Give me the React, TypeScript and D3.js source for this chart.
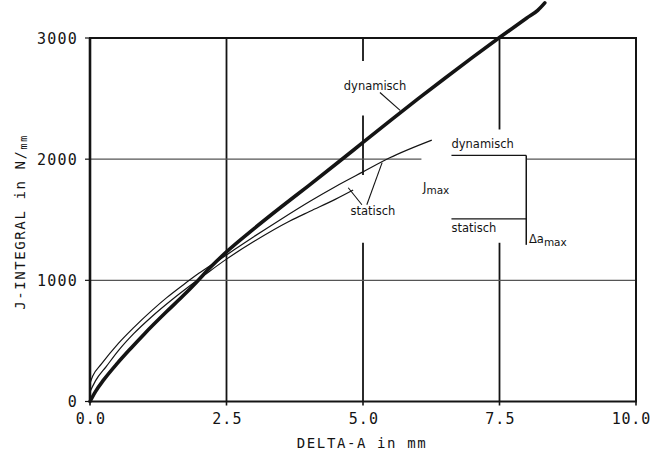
import React from 'react';
import * as d3 from 'd3';

// dynamisch (thick curve)
const dynDa = [0, 0.1, 0.25, 0.5, 0.75, 1.0, 1.4, 1.7, 1.95, 2.2, 2.5, 3.0, 3.5, 4.0, 4.5, 5.0, 5.5, 6.0, 6.5, 7.0, 7.5, 8.0, 8.2, 8.33];
const dynJ = [0, 82, 178, 315, 440, 560, 740, 870, 985, 1105, 1235, 1425, 1605, 1780, 1958, 2138, 2318, 2495, 2668, 2838, 3004, 3165, 3228, 3290];

// statisch, upper/longer curve
const statADa = [0, 0.05, 0.21, 0.52, 0.8, 1.13, 1.4, 1.7, 2.0, 2.3, 2.5, 3.0, 3.5, 4.03, 4.5, 5.0, 5.49, 6.26];
const statAJ = [150, 210, 310, 480, 610, 750, 855, 960, 1060, 1150, 1210, 1360, 1505, 1653, 1775, 1895, 2011, 2157];

// statisch, lower/shorter curve
const statBDa = [0, 0.1, 0.3, 0.52, 0.8, 1.13, 1.5, 1.8, 2.1, 2.5, 3.0, 3.66, 4.03, 4.5, 4.82];
const statBJ = [80, 170, 290, 420, 560, 700, 840, 945, 1045, 1175, 1320, 1490, 1570, 1670, 1745];

const xTicks = [0, 2.5, 5, 7.5, 10];
const xTickLabels = ['0.0', '2.5', '5.0', '7.5', '10.0'];
const yTicks = [0, 1000, 2000, 3000];
const yTickLabels = ['0', '1000', '2000', '3000'];

const W = 653;
const H = 455;
const mono = '"DejaVu Sans Mono", monospace';
const sans = '"DejaVu Sans", sans-serif';
const ink = '#141414';

export default function App() {
  const x = d3.scaleLinear().domain([0, 10]).range([90, 636]);
  const y = d3.scaleLinear().domain([0, 3000]).range([401.5, 38]);

  const line = (da: number[], j: number[]) =>
    d3.line<number>()
      .x((_, i) => x(da[i]))
      .y((d) => y(d))
      .curve(d3.curveMonotoneX)(j) || '';

  // grid segments (with gaps left for the labels)
  const vGrid: { at: number; segs: [number, number][] }[] = [
    { at: 2.5, segs: [[0, 3000]] },
    { at: 5.0, segs: [[0, 1310], [1870, 2360], [2810, 3000]] },
    { at: 7.5, segs: [[0, 1310], [2245, 3000]] },
  ];
  const hGrid: { at: number; segs: [number, number][] }[] = [
    { at: 1000, segs: [[0, 10]] },
    { at: 2000, segs: [[0, 6.07], [7.99, 10]] },
  ];

  return (
    <svg width={W} height={H} style={{ position: 'absolute', left: 0, top: 0, background: '#fff' }}>
      {/* grid */}
      {vGrid.map((g) =>
        g.segs.map((s, i) => (
          <line key={`v${g.at}-${i}`} x1={x(g.at)} x2={x(g.at)} y1={y(s[0])} y2={y(s[1])} stroke={ink} strokeWidth={1.8} />
        ))
      )}
      {hGrid.map((g) =>
        g.segs.map((s, i) => (
          <line key={`h${g.at}-${i}`} x1={x(s[0])} x2={x(s[1])} y1={y(g.at)} y2={y(g.at)} stroke="#555" strokeWidth={1.1} />
        ))
      )}

      {/* frame */}
      <rect x={x(0)} y={y(3000)} width={x(10) - x(0)} height={y(0) - y(3000)} fill="none" stroke={ink} strokeWidth={2} />
      <line x1={x(0)} x2={x(0)} y1={y(3000)} y2={y(0)} stroke={ink} strokeWidth={2.6} />

      {/* ticks */}
      {yTicks.map((t, i) => (
        <g key={`yt${t}`}>
          <line x1={x(0) - 5} x2={x(0)} y1={y(t)} y2={y(t)} stroke={ink} strokeWidth={1.2} />
          <text x={78} y={y(t) + 5.5} textAnchor="end" fontFamily={mono} fontSize={15} letterSpacing={1.2} fill={ink}>
            {yTickLabels[i]}
          </text>
        </g>
      ))}
      {xTicks.map((t, i) => {
        const last = i === xTicks.length - 1;
        return (
          <g key={`xt${t}`}>
            <line x1={x(t)} x2={x(t)} y1={y(0)} y2={y(0) + 4} stroke={ink} strokeWidth={1.6} />
            <text x={last ? 651 : x(t) + 1} y={424} textAnchor={last ? 'end' : 'middle'} fontFamily={mono} fontSize={15} letterSpacing={last ? 0.8 : 1.2} fill={ink}>
              {xTickLabels[i]}
            </text>
          </g>
        );
      })}

      {/* axis titles */}
      <text x={362} y={448} textAnchor="middle" fontFamily={mono} fontSize={14} letterSpacing={1.6} fill={ink}>
        DELTA-A in mm
      </text>
      <text transform="translate(25,222) rotate(-90)" textAnchor="middle" fontFamily={mono} fontSize={14} letterSpacing={1.6} fill={ink}>
        J-INTEGRAL in N/<tspan fontSize={10} dy={2}>mm</tspan>
      </text>

      {/* curves */}
      <path d={line(statADa, statAJ)} fill="none" stroke={ink} strokeWidth={1.2} />
      <path d={line(statBDa, statBJ)} fill="none" stroke={ink} strokeWidth={1.2} />
      <path d={line(dynDa, dynJ)} fill="none" stroke={ink} strokeWidth={3.6} strokeLinecap="round" />

      {/* curve labels */}
      <text x={x(5.22)} y={y(2574)} textAnchor="middle" fontFamily={sans} fontSize={11.5} fill={ink}>dynamisch</text>
      <line x1={x(5.31)} y1={y(2550)} x2={x(5.68)} y2={y(2403)} stroke={ink} strokeWidth={1.1} />

      <text x={x(5.18)} y={y(1541)} textAnchor="middle" fontFamily={sans} fontSize={11.5} fill={ink}>statisch</text>
      <line x1={x(4.73)} y1={y(1764)} x2={x(4.98)} y2={y(1624)} stroke={ink} strokeWidth={1.1} />
      <line x1={x(5.07)} y1={y(1624)} x2={x(5.35)} y2={y(1971)} stroke={ink} strokeWidth={1.1} />

      {/* bracket legend */}
      <text x={x(6.62)} y={y(2093)} fontFamily={sans} fontSize={11.5} fill={ink}>dynamisch</text>
      <text x={x(6.62)} y={y(1403)} fontFamily={sans} fontSize={11.5} fill={ink}>statisch</text>
      <line x1={x(6.62)} x2={x(7.99)} y1={y(2031)} y2={y(2031)} stroke={ink} strokeWidth={1.3} />
      <line x1={x(6.62)} x2={x(7.99)} y1={y(1508)} y2={y(1508)} stroke={ink} strokeWidth={1.3} />
      <line x1={x(7.99)} x2={x(7.99)} y1={y(2031)} y2={y(1293)} stroke={ink} strokeWidth={1.5} />
      <text x={x(6.1)} y={y(1735)} fontFamily={sans} fontSize={11.5} fill={ink}>
        J<tspan fontSize={10.5} dy={3}>max</tspan>
      </text>
      <text x={x(8.04)} y={y(1310)} fontFamily={sans} fontSize={11.5} fill={ink}>
        Δa<tspan fontSize={10.5} dy={3}>max</tspan>
      </text>
    </svg>
  );
}
